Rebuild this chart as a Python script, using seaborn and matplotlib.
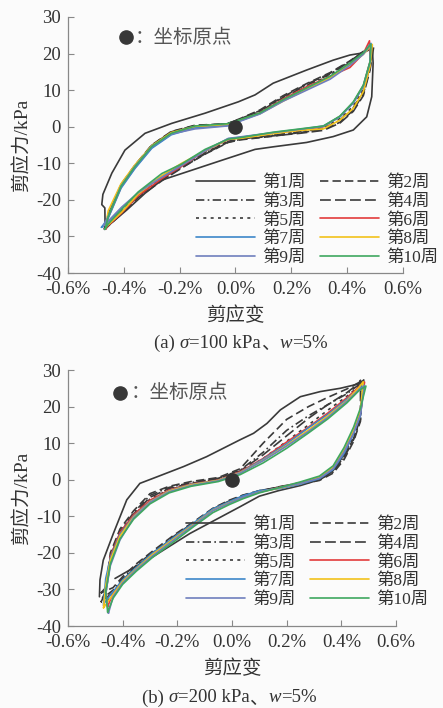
import numpy as np
import pandas as pd
import matplotlib
matplotlib.use("Agg")
import matplotlib.pyplot as plt
import seaborn as sns

# ---------------- data: panel (a) sigma=100 kPa ----------------
CYCLES = ["第1周", "第2周", "第3周", "第4周", "第5周", "第6周", "第7周", "第8周", "第9周", "第10周"]
X_TICKS = [-0.6, -0.4, -0.2, 0.0, 0.2, 0.4, 0.6]
X_TICK_LABELS = ["-0.6%", "-0.4%", "-0.2%", "0.0%", "0.2%", "0.4%", "0.6%"]
Y_TICKS = [-40, -30, -20, -10, 0, 10, 20, 30]

# cycle 1 (a), full path
C1A_X = [-0.467, -0.468, -0.479, -0.475, -0.443, -0.396, -0.324, -0.229, -0.109, 0.01, 0.07, 0.135, 0.255,
         0.35, 0.41, 0.458, 0.49, 0.493, 0.488, 0.47, 0.422, 0.35, 0.255, 0.135, 0.07, -0.05, -0.145,
         -0.264, -0.324, -0.39, -0.467]
C1A_Y = [-27.8, -22.2, -21.3, -18.5, -12.7, -6.4, -1.8, 0.9, 3.7, 6.8, 8.7, 11.9, 15.5,
         18.2, 19.6, 20.2, 21.5, 17.4, 8.2, 2.7, -0.9, -2.7, -4.3, -5.5, -6.2, -9.2, -11.6,
         -14.6, -18.2, -22.8, -27.8]

# shared strain stations (a) for cycles 2-10
UP_X_A = [-0.456, -0.41, -0.36, -0.30, -0.23, -0.145, -0.03, 0.016, 0.088, 0.171, 0.255, 0.339, 0.41, 0.458]
LO_X_A = [0.482, 0.458, 0.422, 0.374, 0.315, 0.231, 0.135, 0.016, -0.026, -0.109, -0.193, -0.264, -0.348, -0.408, -0.456]

# per-cycle stresses (a): upper branch, lower branch, peak (x, y), valley (x, y)
A2_UP = [-24.0, -15.8, -10.5, -5.0, -1.3, 0.4, 0.8, 2.2, 4.6, 8.5, 11.8, 14.8, 18.0, 20.6]
A2_LO = [16.0, 9.0, 4.5, 1.2, -0.8, -1.6, -2.6, -3.6, -4.3, -7.5, -11.2, -14.5, -19.0, -23.5, -27.0]
A2_PK = [0.49, 22.2]
A2_VL = [-0.47, -28.0]
A3_UP = [-24.3, -16.0, -10.7, -5.2, -1.5, 0.2, 0.7, 2.0, 4.2, 8.0, 11.3, 14.4, 17.8, 20.4]
A3_LO = [16.5, 9.8, 5.2, 1.8, -0.5, -1.4, -2.3, -3.4, -4.0, -7.2, -11.0, -14.2, -18.7, -23.2, -26.8]
A3_PK = [0.49, 22.0]
A3_VL = [-0.47, -27.9]
A4_UP = [-24.2, -15.9, -10.6, -5.1, -1.4, 0.3, 0.8, 2.1, 4.4, 8.2, 11.6, 14.6, 17.9, 20.5]
A4_LO = [15.5, 8.5, 4.2, 1.0, -1.0, -1.8, -2.5, -3.5, -4.2, -7.4, -11.3, -14.8, -19.3, -23.8, -27.2]
A4_PK = [0.495, 21.8]
A4_VL = [-0.47, -28.2]
A5_UP = [-24.4, -16.1, -10.8, -5.3, -1.6, 0.1, 0.6, 1.9, 4.0, 7.8, 11.0, 14.2, 17.6, 20.3]
A5_LO = [16.8, 10.2, 5.6, 2.2, -0.3, -1.2, -2.1, -3.3, -3.9, -7.0, -10.8, -14.0, -18.5, -23.0, -26.6]
A5_PK = [0.49, 22.3]
A5_VL = [-0.468, -27.8]
A6_UP = [-24.8, -16.6, -11.2, -5.7, -2.0, -0.1, 0.5, 1.7, 3.8, 7.6, 10.9, 13.8, 16.2, 20.0]
A6_LO = [17.8, 11.2, 6.6, 2.8, 0.0, -0.9, -1.7, -3.0, -3.5, -6.6, -10.8, -14.2, -18.8, -23.6, -27.0]
A6_PK = [0.48, 23.5]
A6_VL = [-0.465, -28.0]
A7_UP = [-25.0, -16.8, -11.4, -5.9, -2.2, -0.3, 0.3, 1.6, 3.6, 7.2, 10.4, 13.5, 17.2, 20.0]
A7_LO = [17.5, 11.0, 6.5, 2.7, 0.1, -0.8, -1.7, -2.9, -3.3, -6.5, -10.3, -13.5, -18.0, -22.5, -26.0]
A7_PK = [0.485, 22.8]
A7_VL = [-0.48, -27.5]
A8_UP = [-23.0, -15.6, -10.4, -5.2, -1.6, 0.1, 0.6, 1.8, 3.6, 7.0, 10.2, 13.5, 17.0, 19.8]
A8_LO = [16.5, 9.6, 5.0, 1.8, -0.6, -1.0, -1.9, -3.2, -3.4, -6.6, -10.0, -13.4, -18.4, -23.4, -26.8]
A8_PK = [0.49, 22.5]
A8_VL = [-0.465, -27.2]
A9_UP = [-24.5, -16.2, -10.8, -5.4, -2.0, -0.6, 0.2, 1.5, 3.5, 7.0, 10.0, 13.0, 16.8, 19.8]
A9_LO = [17.6, 11.2, 6.6, 2.8, 0.2, -0.7, -1.6, -2.8, -3.2, -6.6, -10.6, -13.8, -18.0, -22.0, -25.8]
A9_PK = [0.485, 22.6]
A9_VL = [-0.472, -27.0]
A10_UP = [-24.6, -16.3, -10.9, -5.4, -1.8, 0.2, 0.8, 1.9, 3.8, 7.4, 10.6, 13.8, 17.4, 20.2]
A10_LO = [17.8, 11.4, 6.8, 2.9, 0.2, -0.6, -1.5, -3.0, -3.4, -6.2, -10.2, -12.8, -17.8, -22.6, -26.6]
A10_PK = [0.485, 22.6]
A10_VL = [-0.467, -28.0]

# ---------------- data: panel (b) sigma=200 kPa ----------------
C1B_X = [-0.485, -0.483, -0.471, -0.434, -0.385, -0.337, -0.274, -0.177, -0.093, 0.029, 0.079, 0.128, 0.177,
         0.25, 0.323, 0.396, 0.47, 0.482, 0.48, 0.47, 0.445, 0.41, 0.37, 0.32, 0.25, 0.17, 0.10, 0.029,
         -0.154, -0.288, -0.428]
C1B_Y = [-32.0, -27.4, -22.0, -14.7, -5.5, -1.0, 0.8, 3.6, 6.3, 10.9, 12.7, 15.4, 19.1,
         22.7, 24.1, 25.0, 26.3, 27.3, 24.0, 19.0, 13.0, 7.0, 2.5, 0.0, -1.6, -3.0, -4.5, -7.4,
         -14.7, -21.0, -27.0]

UP_X_B = [-0.462, -0.445, -0.41, -0.36, -0.30, -0.23, -0.15, -0.05, 0.03, 0.114, 0.2, 0.28, 0.35, 0.42, 0.465]
LO_X_B = [0.47, 0.445, 0.41, 0.37, 0.32, 0.25, 0.18, 0.10, 0.04, -0.01, -0.07, -0.14, -0.21, -0.29, -0.35, -0.40, -0.435]

B2_UP = [-29.5, -20.0, -13.5, -8.5, -3.8, -1.8, -0.5, 0.6, 3.0, 10.0, 16.5, 20.0, 22.5, 24.8, 26.6]
B2_LO = [16.0, 10.5, 5.5, 1.8, -0.2, -1.2, -2.0, -3.0, -4.2, -5.6, -7.8, -11.5, -15.0, -19.5, -23.0, -26.5, -29.5]
B2_PK = [0.475, 27.3]
B2_VL = [-0.48, -31.0]
B3_UP = [-30.5, -21.0, -14.2, -9.0, -4.3, -2.1, -0.8, 0.4, 2.6, 7.5, 13.5, 17.5, 20.5, 23.5, 26.0]
B3_LO = [16.5, 11.0, 6.0, 2.1, 0.0, -1.0, -1.9, -3.0, -4.3, -5.8, -8.0, -11.7, -15.3, -19.8, -23.4, -27.0, -30.2]
B3_PK = [0.48, 27.0]
B3_VL = [-0.475, -32.5]
B4_UP = [-31.0, -21.5, -14.6, -9.4, -4.8, -2.4, -1.0, 0.3, 2.4, 6.8, 12.0, 16.8, 20.5, 23.8, 26.4]
B4_LO = [16.8, 11.3, 6.3, 2.3, 0.2, -0.9, -1.8, -3.1, -4.5, -6.0, -8.2, -12.0, -15.6, -20.0, -23.8, -27.4, -30.8]
B4_PK = [0.47, 27.2]
B4_VL = [-0.48, -33.5]
B5_UP = [-31.5, -22.0, -15.0, -9.8, -5.3, -2.7, -1.2, 0.1, 2.2, 5.8, 10.5, 15.0, 19.0, 22.8, 25.6]
B5_LO = [17.2, 11.8, 6.8, 2.6, 0.4, -0.8, -1.9, -3.2, -4.6, -6.1, -8.2, -12.1, -15.8, -20.2, -24.0, -27.7, -31.4]
B5_PK = [0.48, 26.5]
B5_VL = [-0.47, -34.5]
B6_UP = [-30.0, -21.0, -14.5, -9.6, -5.6, -2.8, -1.2, -0.1, 2.2, 5.8, 10.3, 14.4, 18.2, 22.4, 25.4]
B6_LO = [18.2, 13.2, 7.8, 3.2, 0.6, -0.8, -2.0, -3.4, -4.8, -6.2, -8.2, -12.0, -15.8, -20.4, -24.3, -27.8, -31.0]
B6_PK = [0.485, 26.7]
B6_VL = [-0.455, -34.7]
B7_UP = [-27.0, -21.5, -15.0, -10.0, -6.0, -3.0, -1.3, -0.2, 2.0, 5.6, 9.8, 14.2, 17.8, 22.0, 25.0]
B7_LO = [17.6, 12.6, 7.2, 2.8, 0.3, -1.2, -2.4, -3.0, -4.4, -6.0, -8.0, -11.8, -15.6, -20.0, -24.0, -27.4, -30.6]
B7_PK = [0.48, 26.2]
B7_VL = [-0.47, -34.0]
B8_UP = [-29.0, -22.0, -15.4, -10.2, -6.1, -3.1, -1.4, -0.2, 1.9, 5.3, 9.4, 13.6, 17.4, 21.6, 25.3]
B8_LO = [19.0, 13.6, 8.2, 3.4, 0.6, -1.0, -2.2, -3.4, -4.9, -6.3, -8.4, -12.2, -16.0, -20.4, -24.4, -27.8, -31.4]
B8_PK = [0.48, 26.8]
B8_VL = [-0.47, -35.0]
B9_UP = [-31.0, -23.5, -16.5, -10.4, -6.2, -3.3, -1.6, -0.3, 1.8, 5.2, 9.2, 13.2, 17.0, 21.4, 24.6]
B9_LO = [17.8, 12.8, 7.6, 3.0, 0.4, -1.0, -2.1, -3.4, -4.8, -6.4, -8.5, -12.4, -16.3, -20.8, -24.6, -28.2, -32.0]
B9_PK = [0.485, 25.8]
B9_VL = [-0.452, -36.5]
B10_UP = [-30.5, -23.0, -16.2, -10.8, -6.6, -3.6, -1.8, -0.5, 1.4, 4.6, 8.6, 12.8, 16.6, 21.0, 24.4]
B10_LO = [19.6, 14.4, 8.8, 3.8, 1.0, -0.6, -2.0, -3.6, -5.2, -6.8, -9.0, -12.8, -16.8, -21.2, -25.0, -28.6, -32.4]
B10_PK = [0.49, 25.6]
B10_VL = [-0.455, -36.2]

ORIGIN_X = [0.0]
ORIGIN_Y = [0.0]

# ---------------- styling ----------------
BLACK = "#3a3a3a"
PALETTE = {"第1周": BLACK, "第2周": BLACK, "第3周": BLACK, "第4周": BLACK, "第5周": BLACK,
           "第6周": "#e23b3b", "第7周": "#3d87c9", "第8周": "#f2c21b", "第9周": "#6f7fbd", "第10周": "#3fa75f"}
DASHES = {"第1周": "", "第2周": (5, 2.5), "第3周": (5, 2, 1, 2), "第4周": (6.5, 2.5), "第5周": (1.8, 2.6),
          "第6周": "", "第7周": "", "第8周": "", "第9周": "", "第10周": ""}

sns.set_style("ticks")
SERIF_CJK = ["Liberation Serif", "Noto Sans CJK SC"]
plt.rcParams["font.family"] = SERIF_CJK
plt.rcParams["mathtext.fontset"] = "stix"
plt.rcParams["axes.unicode_minus"] = False

BG = "#fbfbfb"
TXT = "#333333"
AX_COL = "#888888"


def build_loop(label, up_x, up_y, lo_x, lo_y, pk, vl):
    xs = [vl[0]] + list(up_x) + [pk[0]] + list(lo_x) + [vl[0]]
    ys = [vl[1]] + list(up_y) + [pk[1]] + list(lo_y) + [vl[1]]
    return pd.DataFrame({"strain": xs, "stress": ys, "cycle": label})


def panel_frame(c1x, c1y, upx, lox, cyc):
    frames = [pd.DataFrame({"strain": c1x, "stress": c1y, "cycle": CYCLES[0]})]
    for lab, (u, l, p, v) in zip(CYCLES[1:], cyc):
        frames.append(build_loop(lab, upx, u, lox, l, p, v))
    return pd.concat(frames, ignore_index=True)


df_a = panel_frame(C1A_X, C1A_Y, UP_X_A, LO_X_A, [
    (A2_UP, A2_LO, A2_PK, A2_VL), (A3_UP, A3_LO, A3_PK, A3_VL), (A4_UP, A4_LO, A4_PK, A4_VL),
    (A5_UP, A5_LO, A5_PK, A5_VL), (A6_UP, A6_LO, A6_PK, A6_VL), (A7_UP, A7_LO, A7_PK, A7_VL),
    (A8_UP, A8_LO, A8_PK, A8_VL), (A9_UP, A9_LO, A9_PK, A9_VL), (A10_UP, A10_LO, A10_PK, A10_VL)])
df_b = panel_frame(C1B_X, C1B_Y, UP_X_B, LO_X_B, [
    (B2_UP, B2_LO, B2_PK, B2_VL), (B3_UP, B3_LO, B3_PK, B3_VL), (B4_UP, B4_LO, B4_PK, B4_VL),
    (B5_UP, B5_LO, B5_PK, B5_VL), (B6_UP, B6_LO, B6_PK, B6_VL), (B7_UP, B7_LO, B7_PK, B7_VL),
    (B8_UP, B8_LO, B8_PK, B8_VL), (B9_UP, B9_LO, B9_PK, B9_VL), (B10_UP, B10_LO, B10_PK, B10_VL)])

fig = plt.figure(figsize=(4.43, 7.08), dpi=100, facecolor=BG)
ax_a = fig.add_axes([0.1535, 0.6144, 0.7562, 0.3616])
ax_b = fig.add_axes([0.1535, 0.1158, 0.7404, 0.3616])

CAP_A = [("(a) ", "n"), ("σ", "i"), ("=100 kPa", "n"), ("、", "c"), ("w", "i"), ("=5%", "n")]
CAP_B = [("(b) ", "n"), ("σ", "i"), ("=200 kPa", "n"), ("、", "c"), ("w", "i"), ("=5%", "n")]

specs = [
    (ax_a, df_a, (0.382, 0.382), (-0.392, 24.5), (-0.36, 24.5), CAP_A, (241, 343)),
    (ax_b, df_b, (0.360, 0.425), (-0.41, 23.8), (-0.372, 23.8), CAP_B, (229, 698)),
]

renderer = fig.canvas.get_renderer()
W, H = 443, 708


def caption(parts, center_px):
    texts = []
    for s, kind in parts:
        kw = dict(fontsize=13.5, color=TXT, va="center", ha="left")
        if kind == "i":
            kw.update(style="italic", family=["Liberation Serif"])
        elif kind == "c":
            kw.update(family=["Noto Sans CJK SC"])
        else:
            kw.update(family=["Liberation Serif"])
        texts.append(fig.text(0, 0, s, **kw))
    widths = [t.get_window_extent(renderer).width for t in texts]
    total = sum(widths)
    x = center_px[0] - total / 2
    for t, w in zip(texts, widths):
        t.set_position((x / W, 1 - center_px[1] / H))
        x += w


for ax, df, leg_anchor, dot_xy, txt_xy, cap, cap_xy in specs:
    ax.set_facecolor(BG)
    sns.lineplot(data=df, x="strain", y="stress", hue="cycle", style="cycle",
                 hue_order=CYCLES, style_order=CYCLES, palette=PALETTE, dashes=DASHES,
                 sort=False, estimator=None, linewidth=1.2, ax=ax, legend="full")
    # origin marker
    ax.plot(ORIGIN_X, ORIGIN_Y, "o", color="#333333", markersize=9.5, zorder=5)
    # annotation
    ax.plot([dot_xy[0]], [dot_xy[1]], "o", color="#383838", markersize=9.5, zorder=5)
    ax.text(txt_xy[0], txt_xy[1], "：坐标原点", fontsize=14, color="#555555",
            va="center", ha="left", family=["Noto Sans CJK SC"])

    ax.set_xlim(-0.6, 0.6)
    ax.set_ylim(-40, 30)
    ax.set_xticks(X_TICKS)
    ax.set_xticklabels(X_TICK_LABELS)
    ax.set_yticks(Y_TICKS)
    ax.set_yticklabels([str(v) for v in Y_TICKS])
    ax.tick_params(axis="both", direction="in", length=4, width=0.8, color=AX_COL,
                   labelsize=13.5, labelcolor=TXT)
    ax.tick_params(axis="x", pad=6)
    ax.tick_params(axis="y", pad=5)
    for s in ["top", "right"]:
        ax.spines[s].set_visible(False)
    for s in ["left", "bottom"]:
        ax.spines[s].set_color(AX_COL)
        ax.spines[s].set_linewidth(0.9)
    ax.set_xlabel("剪应变", fontsize=14, color=TXT, labelpad=5, family=["Noto Sans CJK SC"])
    ax.set_ylabel("剪应力/kPa", fontsize=14, color=TXT, labelpad=3, family=SERIF_CJK)

    handles, labels = ax.get_legend_handles_labels()
    hmap = dict(zip(labels, handles))
    order = ["第1周", "第3周", "第5周", "第7周", "第9周", "第2周", "第4周", "第6周", "第8周", "第10周"]
    leg = ax.legend([hmap[k] for k in order], order, ncol=2, loc="upper left",
                    bbox_to_anchor=leg_anchor, frameon=False, fontsize=12.5,
                    handlelength=3.4, handletextpad=0.4, columnspacing=0.85,
                    labelspacing=0.14, borderpad=0, borderaxespad=0)
    for t in leg.get_texts():
        t.set_color(TXT)
        t.set_family(SERIF_CJK)

    caption(cap, cap_xy)

fig.savefig("out.png", dpi=100, facecolor=BG)
